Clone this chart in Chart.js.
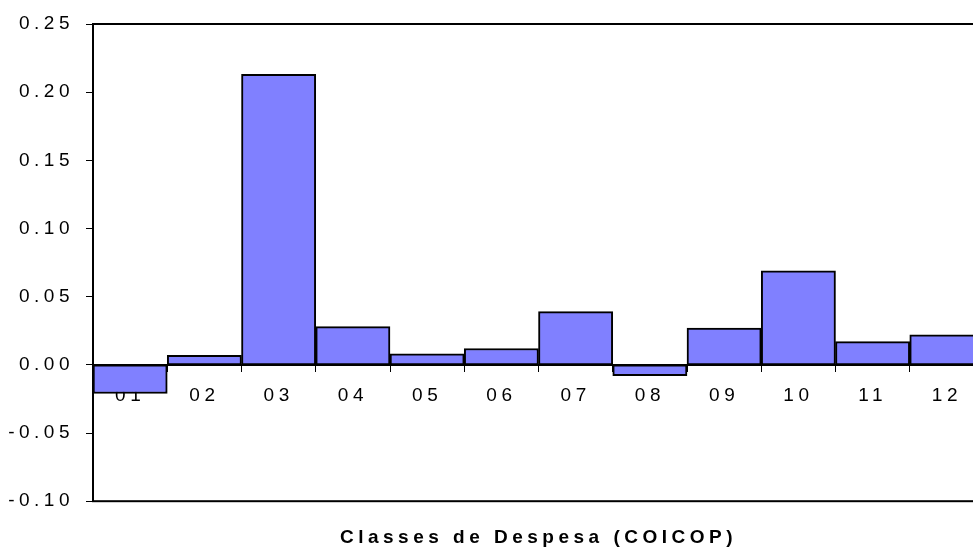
<!DOCTYPE html>
<html>
<head>
<meta charset="utf-8">
<script src="https://cdn.jsdelivr.net/npm/chart.js@4/dist/chart.umd.min.js"></script>
<style>
  html, body { margin: 0; padding: 0; background: #fff; overflow: hidden; }
  #wrap { position: relative; width: 1000px; height: 552px; }
</style>
</head>
<body>
<div id="wrap"><canvas id="coicopChart"></canvas></div>
<script>
// Classes de despesa (COICOP)
var classes = ['01', '02', '03', '04', '05', '06', '07', '08', '09', '10', '11', '12'];
var contributos = [-0.021, 0.007, 0.213, 0.028, 0.008, 0.012, 0.039, -0.008, 0.027, 0.069, 0.017, 0.022];
var yMin = -0.10;
var yMax = 0.25;
var yStep = 0.05;

Chart.defaults.font.family = '"Liberation Sans", Arial, sans-serif';
Chart.defaults.color = '#000';

// spaced-out lettering like the original
var spacing = {
    id: 'spacing',
    beforeDraw: function(chart) {
        chart.ctx.letterSpacing = '4.5px';
    }
};

// black frame around the plot area
var frame = {
    id: 'frame',
    afterDraw: function(chart) {
        var a = chart.chartArea;
        var ctx = chart.ctx;
        ctx.save();
        ctx.strokeStyle = '#000';
        ctx.lineWidth = 2;
        ctx.strokeRect(a.left, a.top, a.right - a.left, a.bottom - a.top);
        ctx.restore();
    }
};

new Chart(document.getElementById('coicopChart'), {
    type: 'bar',
    data: {
        labels: classes,
        datasets: [{
            data: contributos,
            backgroundColor: '#8080ff',
            borderColor: '#000',
            borderWidth: 2,
            borderSkipped: false,
            categoryPercentage: 1.0,
            barPercentage: 1.0
        }]
    },
    options: {
        responsive: true,
        maintainAspectRatio: false,
        animation: false,
        layout: {
            padding: { top: 24, right: 16, bottom: 0, left: 0 }
        },
        plugins: {
            legend: { display: false },
            tooltip: { enabled: false },
            title: {
                display: true,
                text: 'Classes de Despesa (COICOP)',
                position: 'bottom',
                fullSize: false,
                color: '#000',
                font: { size: 19, weight: 'bold' },
                padding: { top: 25, bottom: 3 }
            }
        },
        scales: {
            x: {
                position: { y: 0 },
                z: 1,
                grid: {
                    offset: true,
                    drawOnChartArea: false,
                    tickLength: 6,
                    color: '#000'
                },
                border: { display: true, color: '#000', width: 2 },
                ticks: {
                    color: '#000',
                    font: { size: 19 },
                    padding: 14,
                    maxRotation: 0,
                    autoSkip: false
                },
                afterFit: function(scale) {
                    scale.height = 0;
                }
            },
            y: {
                min: yMin,
                max: yMax,
                grid: {
                    drawOnChartArea: false,
                    tickLength: 7,
                    color: '#000'
                },
                border: { display: true, color: '#000', width: 2 },
                ticks: {
                    stepSize: yStep,
                    color: '#000',
                    font: { size: 19 },
                    padding: 12,
                    callback: function(v) {
                        if (Math.abs(v) < 1e-9) return '0.00';
                        return v.toFixed(2);
                    }
                },
                afterFit: function(scale) {
                    scale.width = 93;
                }
            }
        }
    },
    plugins: [spacing, frame]
});
</script>
</body>
</html>
